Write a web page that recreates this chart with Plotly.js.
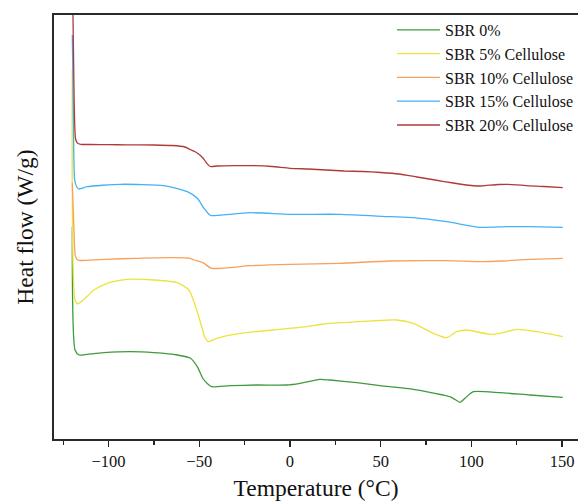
<!DOCTYPE html>
<html>
<head>
<meta charset="utf-8">
<script src="https://cdn.plot.ly/plotly-3.0.1.min.js"></script>
<style>
  html, body { margin: 0; padding: 0; background: #fff; }
  #chart { width: 578px; height: 503px; }
</style>
</head>
<body>
<div id="chart"></div>
<script>
// DSC heating traces of SBR compounds, stacked with vertical offsets (arbitrary heat-flow units)
const seriesNames = ['SBR 0%', 'SBR 5% Cellulose', 'SBR 10% Cellulose', 'SBR 15% Cellulose', 'SBR 20% Cellulose'];
const seriesColors = ['#3f9b3a', '#ece33c', '#f7a15c', '#42b2f4', '#b03a3a'];

// SBR 0%
const temp0 = [-120.0, -118.5, -116.3, -111.8, -102.6, -87.8, -75, -62.1, -54.8, -51.1, -47.8, -45.0, -43.2, -33.1, -18.4, -1.8, 5.5, 16.5, 22.1, 36.8, 49.6, 68, 84.5, 88.2, 91.0, 93.7, 97.4, 101.1, 115.8, 132.3, 150.4];
const heat0 = [212, 89, 84, 84.7, 86.3, 87.3, 86.3, 84, 80.7, 72.3, 60, 54.5, 52.3, 53.3, 54, 54, 55.7, 59.7, 59, 56.3, 53.3, 49.7, 44, 42.3, 39.5, 36.7, 42.3, 47.3, 46.3, 44, 41.7];

// SBR 5% Cellulose
const temp5 = [-120.0, -118.5, -116.9, -113.6, -108.1, -100.7, -89.7, -75, -62.1, -55.7, -52.0, -48.4, -47.0, -45.0, -40.4, -27.6, -9.2, 9.2, 18.4, 36.8, 49.6, 58.8, 68.0, 79.0, 86.4, 91.9, 97.4, 110.3, 115.8, 125.0, 136.0, 150.4];
const heat5 = [370, 139, 135, 139.7, 149, 155.7, 159.7, 159, 156.3, 149, 132.3, 110.7, 102, 97.3, 100.7, 105.7, 109, 112.3, 115, 117.3, 118.5, 119, 115.7, 105.7, 101.3, 107.3, 109, 104.7, 105.7, 109.7, 107.3, 102.3];

// SBR 10% Cellulose
const temp10 = [-120.0, -119.2, -118.3, -117.0, -115.5, -102.6, -84.2, -65.8, -55.1, -52.9, -49.6, -47.4, -43.2, -22.1, 0, 27.6, 55.1, 86.4, 104.8, 117.4, 132.3, 150.4];
const heat10 = [256, 215, 183, 179, 178.5, 179.7, 180.7, 181.3, 180.7, 179, 177.3, 175.7, 170.7, 173.3, 174.7, 175.7, 178, 178.3, 177.3, 178, 179.7, 180.7];

// SBR 15% Cellulose
const temp15 = [-120.0, -119.4, -118.7, -117.5, -116.3, -111.8, -93.4, -69.5, -56.6, -51.1, -47.4, -44.1, -43.2, -22.1, 0, 27.6, 55.1, 68, 86.4, 104.8, 119.5, 132.3, 150.4];
const heat15 = [404, 320, 259, 252, 250, 252.3, 254.7, 253.3, 247.3, 240.7, 230.7, 224, 223.3, 226.3, 224.7, 224.7, 222.3, 221.3, 217.3, 211.7, 212.3, 212.3, 211.7];

// SBR 20% Cellulose
const temp20 = [-120.0, -119.0, -118.2, -117.2, -115.4, -110, -100, -90, -75, -65, -58, -55, -52, -50, -48, -46, -44, -40, -30, -20, -10, 0, 10, 20, 30, 40, 50, 60, 70, 80, 90, 100, 105, 110, 115, 120, 125, 130, 140, 150.4];
const heat20 = [470, 340, 300, 296, 294.7, 294.5, 294.3, 294.2, 294, 293.5, 292, 289.5, 287, 284.5, 281, 276, 272.5, 273, 273.3, 273.3, 272.5, 270.7, 270, 269, 268, 267.5, 266.5, 265, 262, 259, 256, 253.5, 253, 253.8, 254.5, 254.7, 254.2, 253.4, 252.5, 251.3];

const temps = [temp0, temp5, temp10, temp15, temp20];
const heats = [heat0, heat5, heat10, heat15, heat20];

const serif = 'Liberation Serif, Times New Roman, serif';

const traces = seriesNames.map((name, i) => ({
  type: 'scatter',
  mode: 'lines',
  name: name,
  x: temps[i],
  y: heats[i],
  line: { color: seriesColors[i], width: 1.3, shape: 'spline', smoothing: 0.6 },
  hoverinfo: 'skip'
}));

const layout = {
  width: 578,
  height: 503,
  margin: { l: 54, r: 0, t: 15, b: 64, autoexpand: false },
  paper_bgcolor: '#ffffff',
  plot_bgcolor: '#ffffff',
  showlegend: true,
  legend: {
    x: 0.645, y: 1.005, xanchor: 'left', yanchor: 'top',
    bgcolor: 'rgba(255,255,255,0)',
    font: { family: serif, size: 16, color: '#111' },
    itemwidth: 43,
    tracegroupgap: 0
  },
  xaxis: {
    range: [-130.1, 158.8],
    automargin: false,
    tick0: 0,
    dtick: 50,
    ticks: 'outside',
    ticklen: 6,
    tickwidth: 1.5,
    tickcolor: '#222',
    minor: { dtick: 25, ticks: 'outside', ticklen: 4, tickwidth: 1.5, tickcolor: '#222' },
    showgrid: false,
    zeroline: false,
    showline: true,
    linewidth: 2,
    linecolor: '#2a2a2a',
    mirror: true,
    tickfont: { family: serif, size: 16.5, color: '#111' },
    title: { text: 'Temperature (°C)', font: { family: serif, size: 23.5, color: '#111' }, standoff: 10 }
  },
  yaxis: {
    range: [0, 424],
    automargin: false,
    showticklabels: false,
    ticks: '',
    showgrid: false,
    zeroline: false,
    showline: true,
    linewidth: 2,
    linecolor: '#2a2a2a',
    mirror: false,
    title: { text: 'Heat flow (W/g)', font: { family: serif, size: 23.5, color: '#111' }, standoff: 12 }
  }
};

Plotly.newPlot('chart', traces, layout, { staticPlot: true, displayModeBar: false });
</script>
</body>
</html>
